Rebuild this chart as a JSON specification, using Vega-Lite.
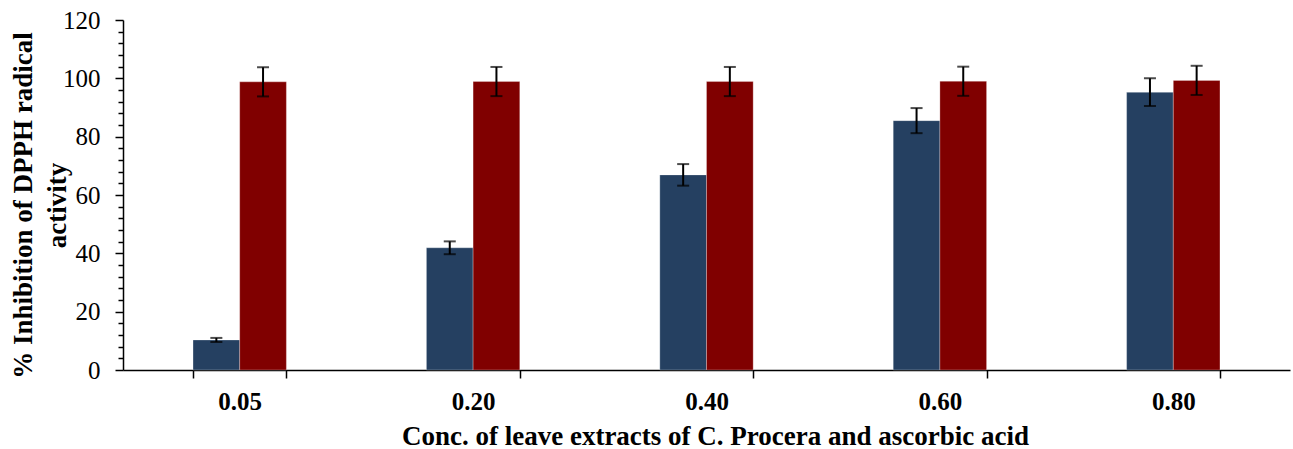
{
  "$schema": "https://vega.github.io/schema/vega-lite/v6.json",
  "autosize": "none",
  "padding": {"left": 123, "top": 20, "right": 3, "bottom": 79},
  "width": 1167,
  "height": 350,
  "background": "white",
  "config": {
    "view": {"stroke": null},
    "font": "Liberation Serif",
    "axis": {"labelFont": "Liberation Serif", "titleFont": "Liberation Serif"},
    "axisY": {
      "labelOverlap": false,
      "labelFlush": false,
      "grid": false,
      "tickColor": "#000000", "tickWidth": 1.5,
      "domainColor": "#000000", "domainWidth": 1.5,
      "labelFont": "Liberation Serif", "labelFontSize": 25, "labelColor": "#000000", "labelPadding": 15,
      "titleFont": "Liberation Serif", "titleFontSize": 27, "titleFontWeight": "bold", "titleColor": "#000000",
      "titleAngle": -90, "titleAlign": "center", "titleBaseline": "middle", "titleLineHeight": 34,
      "titleX": -100, "titleY": 185
    }
  },
  "data": {"values": [
    {"conc": "0.05", "group": "C. Procera extract", "value": 10.3, "lo": 9.6, "hi": 11.0},
    {"conc": "0.05", "group": "Ascorbic acid", "value": 98.8, "lo": 93.8, "hi": 103.8},
    {"conc": "0.20", "group": "C. Procera extract", "value": 41.9, "lo": 39.7, "hi": 44.1},
    {"conc": "0.20", "group": "Ascorbic acid", "value": 98.9, "lo": 93.9, "hi": 103.9},
    {"conc": "0.40", "group": "C. Procera extract", "value": 66.9, "lo": 63.2, "hi": 70.6},
    {"conc": "0.40", "group": "Ascorbic acid", "value": 98.9, "lo": 93.9, "hi": 103.9},
    {"conc": "0.60", "group": "C. Procera extract", "value": 85.5, "lo": 81.2, "hi": 89.8},
    {"conc": "0.60", "group": "Ascorbic acid", "value": 99.0, "lo": 94.0, "hi": 104.0},
    {"conc": "0.80", "group": "C. Procera extract", "value": 95.2, "lo": 90.5, "hi": 100.0},
    {"conc": "0.80", "group": "Ascorbic acid", "value": 99.3, "lo": 94.3, "hi": 104.3}
  ]},
  "encoding": {
    "x": {
      "field": "conc", "type": "nominal",
      "scale": {"paddingInner": 0.6, "paddingOuter": 0.3},
      "axis": {
        "title": "Conc. of leave extracts of C. Procera and ascorbic acid",
        "labelAngle": 0,
        "labelFont": "Liberation Serif", "labelFontSize": 25, "labelFontWeight": "bold", "labelColor": "#000000",
        "labelPadding": 11,
        "tickBand": "extent", "tickSize": 8, "tickColor": "#000000", "tickWidth": 1.5,
        "domainColor": "#000000", "domainWidth": 1.5,
        "titleFont": "Liberation Serif", "titleFontSize": 27, "titleFontWeight": "bold", "titleColor": "#000000",
        "titleBaseline": "middle", "titleY": 66, "titleX": 592
      }
    },
    "xOffset": {"field": "group", "type": "nominal", "sort": ["C. Procera extract", "Ascorbic acid"], "scale": {"paddingInner": 0, "paddingOuter": 0}}
  },
  "layer": [
    {
      "mark": {"type": "bar", "stroke": "#ffffff", "strokeOpacity": 0.35, "strokeWidth": 0.8},
      "encoding": {
        "y": {
          "field": "value", "type": "quantitative",
          "scale": {"domain": [0, 120], "nice": false},
          "axis": {
            "values": [0,4,8,12,16,20,24,28,32,36,40,44,48,52,56,60,64,68,72,76,80,84,88,92,96,100,104,108,112,116,120],
            "labelExpr": "datum.value % 20 === 0 ? datum.label : ''",
            "labelFont": "Liberation Serif",
            "tickSize": {"condition": {"test": "datum.value % 20 === 0", "value": 8}, "value": 5},
            "title": ["% Inhibition of DPPH radical", "activity"]
          }
        },
        "color": {
          "field": "group", "type": "nominal",
          "scale": {"domain": ["C. Procera extract", "Ascorbic acid"], "range": ["#254061", "#800000"]},
          "legend": null
        }
      }
    },
    {
      "mark": {"type": "rule", "color": "#000000", "strokeWidth": 2},
      "encoding": {
        "y": {
          "field": "lo", "type": "quantitative",
          "axis": {
            "values": [0,4,8,12,16,20,24,28,32,36,40,44,48,52,56,60,64,68,72,76,80,84,88,92,96,100,104,108,112,116,120],
            "labelExpr": "datum.value % 20 === 0 ? datum.label : ''",
            "labelFont": "Liberation Serif",
            "tickSize": {"condition": {"test": "datum.value % 20 === 0", "value": 8}, "value": 5},
            "title": ["% Inhibition of DPPH radical", "activity"]
          }
        },
        "y2": {"field": "hi"}
      }
    },
    {
      "mark": {"type": "tick", "color": "#000000", "thickness": 2, "size": 12},
      "encoding": {
        "y": {
          "field": "lo", "type": "quantitative",
          "axis": {
            "values": [0,4,8,12,16,20,24,28,32,36,40,44,48,52,56,60,64,68,72,76,80,84,88,92,96,100,104,108,112,116,120],
            "labelExpr": "datum.value % 20 === 0 ? datum.label : ''",
            "labelFont": "Liberation Serif",
            "tickSize": {"condition": {"test": "datum.value % 20 === 0", "value": 8}, "value": 5},
            "title": ["% Inhibition of DPPH radical", "activity"]
          }
        }
      }
    },
    {
      "mark": {"type": "tick", "color": "#000000", "thickness": 2, "size": 12},
      "encoding": {
        "y": {
          "field": "hi", "type": "quantitative",
          "axis": {
            "values": [0,4,8,12,16,20,24,28,32,36,40,44,48,52,56,60,64,68,72,76,80,84,88,92,96,100,104,108,112,116,120],
            "labelExpr": "datum.value % 20 === 0 ? datum.label : ''",
            "labelFont": "Liberation Serif",
            "tickSize": {"condition": {"test": "datum.value % 20 === 0", "value": 8}, "value": 5},
            "title": ["% Inhibition of DPPH radical", "activity"]
          }
        }
      }
    }
  ]
}
